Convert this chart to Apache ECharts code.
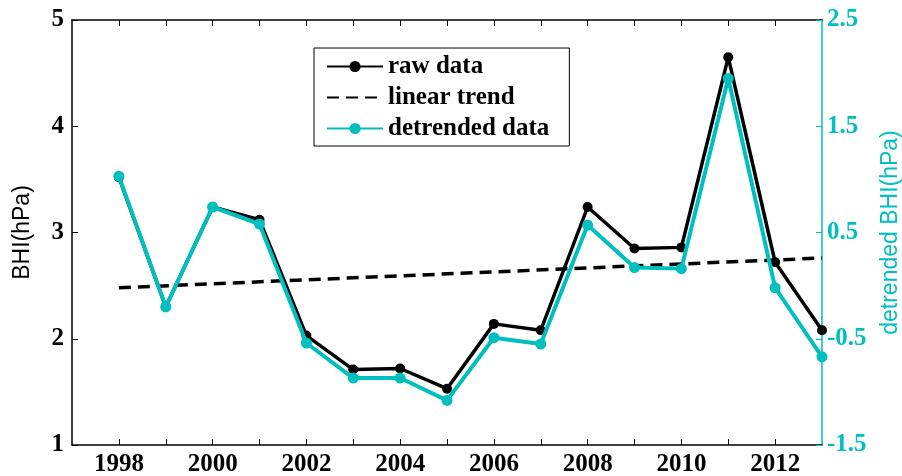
<!DOCTYPE html>
<html>
<head>
<meta charset="utf-8">
<script src="https://cdn.jsdelivr.net/npm/echarts@6/dist/echarts.min.js"></script>
<style>html,body{margin:0;padding:0;background:#fff}#c{width:902px;height:476px}</style>
</head>
<body>
<div id="c"></div>
<script>
var years = [1998,1999,2000,2001,2002,2003,2004,2005,2006,2007,2008,2009,2010,2011,2012,2013];
var rawData = [3.52,2.30,3.24,3.12,2.03,1.71,1.72,1.53,2.14,2.08,3.24,2.85,2.86,4.65,2.72,2.08];
var detrendedData = [1.03,-0.20,0.74,0.58,-0.54,-0.87,-0.87,-1.08,-0.49,-0.55,0.57,0.17,0.16,1.95,-0.02,-0.67];
var trendYears = [1998, 2013];
var trendData = [2.48, 2.76];
var xTickYears = [1998,1999,2000,2001,2002,2003,2004,2005,2006,2007,2008,2009,2010,2011,2012];
var xLabelYears = [1998,2000,2002,2004,2006,2008,2010,2012];
var leftTicks = [1,2,3,4,5];
var rightTicks = [-1.5,-0.5,0.5,1.5,2.5];

var TEAL = '#00bfbf';
var SERIF = '"Liberation Serif", "Times New Roman", serif';
var SANS = '"Liberation Sans", Arial, sans-serif';

function pairs(xs, ys){ return xs.map(function(x,i){ return [x, ys[i]]; }); }

var chart = echarts.init(document.getElementById('c'), null, {renderer:'canvas'});
chart.setOption({
  animation: false,
  backgroundColor: '#fff',
  grid: {left: 72, right: 80, top: 20, bottom: 31, containLabel: false, outerBoundsMode: 'none'},
  legend: {
    orient: 'vertical',
    left: 314, top: 48,
    padding: [6, 20, 5, 12],
    itemGap: 6,
    itemWidth: 56,
    itemHeight: 14,
    borderColor: '#000', borderWidth: 1,
    backgroundColor: '#fff',
    textStyle: {fontFamily: SERIF, fontWeight: 'bold', fontSize: 25, color: '#000'},
    data: ['raw data', {name: 'linear trend', itemStyle: {opacity: 0}}, 'detrended data']
  },
  xAxis: [{
    type: 'value', position: 'bottom', min: 1997, max: 2013, interval: 1,
    axisLine: {show: true, onZero: false, lineStyle: {color: '#000', width: 1.5}},
    axisTick: {show: true, inside: true, length: 6, customValues: xTickYears, lineStyle: {color: '#000'}},
    axisLabel: {customValues: xLabelYears, formatter: function(v){ return String(v); },
      fontFamily: SERIF, fontWeight: 'bold', fontSize: 25, color: '#000', margin: 7},
    splitLine: {show: false}
  }, {
    type: 'value', position: 'top', min: 1997, max: 2013, interval: 1,
    axisLine: {show: true, onZero: false, lineStyle: {color: '#000', width: 1.5}},
    axisTick: {show: true, inside: true, length: 6, customValues: xTickYears, lineStyle: {color: '#000'}},
    axisLabel: {show: false},
    splitLine: {show: false}
  }],
  yAxis: [{
    type: 'value', position: 'left', min: 1, max: 5, interval: 1,
    name: 'BHI(hPa)', nameLocation: 'middle', nameGap: 38, nameRotate: 90,
    nameTextStyle: {fontFamily: SANS, fontSize: 23, color: '#000'},
    axisLine: {show: true, onZero: false, lineStyle: {color: '#000', width: 1.5}},
    axisTick: {show: true, inside: true, length: 6, customValues: leftTicks, lineStyle: {color: '#000'}},
    axisLabel: {customValues: leftTicks, fontFamily: SERIF, fontWeight: 'bold', fontSize: 25, color: '#000', margin: 8},
    splitLine: {show: false}
  }, {
    type: 'value', position: 'right', min: -1.5, max: 2.5, interval: 0.5,
    name: 'detrended BHI(hPa)', nameLocation: 'middle', nameGap: 57, nameRotate: 90,
    nameTextStyle: {fontFamily: SANS, fontSize: 23, color: TEAL},
    axisLine: {show: true, onZero: false, lineStyle: {color: TEAL, width: 1.5}},
    axisTick: {show: true, inside: true, length: 6, customValues: rightTicks, lineStyle: {color: TEAL}},
    axisLabel: {customValues: rightTicks, fontFamily: SERIF, fontWeight: 'bold', fontSize: 25, color: TEAL, margin: 5},
    splitLine: {show: false}
  }],
  series: [{
    name: 'raw data', type: 'line', xAxisIndex: 0, yAxisIndex: 0, z: 3,
    data: pairs(years, rawData),
    symbol: 'circle', symbolSize: 10, showAllSymbol: true,
    lineStyle: {color: '#000', width: 3.5},
    itemStyle: {color: '#000'}
  }, {
    name: 'linear trend', type: 'line', xAxisIndex: 0, yAxisIndex: 0, z: 2,
    data: pairs(trendYears, trendData),
    symbol: 'none',
    lineStyle: {color: '#000', width: 3.5, type: [12, 7]},
    itemStyle: {color: '#000'}
  }, {
    name: 'detrended data', type: 'line', xAxisIndex: 0, yAxisIndex: 1, z: 4,
    data: pairs(years, detrendedData),
    symbol: 'circle', symbolSize: 11, showAllSymbol: true,
    lineStyle: {color: TEAL, width: 4},
    itemStyle: {color: TEAL}
  }]
});
</script>
</body>
</html>
